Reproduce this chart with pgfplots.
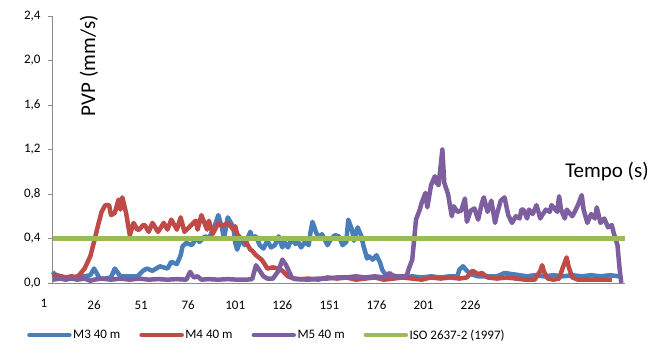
\documentclass[border=0pt]{standalone}
\usepackage{fontspec}
\setmainfont{Carlito}
\usepackage{pgfplots}
\pgfplotsset{compat=1.18}
\definecolor{cthree}{HTML}{4A7EBB}
\definecolor{cfour}{HTML}{BE4B48}
\definecolor{cfive}{HTML}{7D5FA0}
\definecolor{ciso}{HTML}{9BBB59}
\definecolor{axgray}{HTML}{8C8C8C}
\begin{document}
\begin{tikzpicture}[x=1pt,y=1pt]
\useasboundingbox (0,0) rectangle (650,349);
\begin{axis}[
  at={(52pt,66pt)}, anchor=south west,
  scale only axis, width=573pt, height=267pt,
  xmin=3.66, xmax=308, ymin=0, ymax=2.4,
  clip=false,
  axis lines*=left,
  axis line style={axgray, line width=1pt},
  xtick={26,51,76,101,126,151,176,201,226},
  ytick={0,0.4,0.8,1.2,1.6,2.0,2.4},
  xtick style={draw=none},
  ytick style={axgray, line width=1pt},
  tick align=outside, major tick length=4pt,
  /pgf/number format/assume math mode=true,
  tick label style={font=\fontsize{13}{15}\selectfont, black},
  yticklabel style={/pgf/number format/fixed, /pgf/number format/fixed zerofill, /pgf/number format/precision=1, /pgf/number format/use comma},
  yticklabel style={anchor=east, xshift=-4pt},
  xticklabel style={anchor=center, yshift=-18.5pt},
  legend columns=4,
  legend style={at={(axis description cs:-0.0436,-0.1948)}, anchor=west,
    draw=none, fill=none, inner sep=0pt,
    font=\fontsize{13}{15}\selectfont,
    nodes={inner sep=1.5pt},
    /tikz/every even column/.append style={column sep=17.5pt}},
  legend image code/.code={\draw[#1, line width=4.5pt, line cap=round] (0pt,0pt) -- (40pt,0pt);},
  every axis plot/.append style={line join=round},
]
\addplot[cthree, line width=4.5pt] coordinates {
(4,0.10) (5,0.08) (8,0.06) (11,0.05) (14,0.04) (17,0.06) (21,0.06) (24,0.07) (26,0.13) (29,0.04)
(32,0.04) (35,0.05) (37,0.13) (40,0.06) (43,0.06) (47,0.06) (49,0.06) (52,0.11) (54,0.13) (57,0.11)
(61,0.15) (65,0.13) (67,0.19) (70,0.17) (72,0.25) (73,0.33) (75,0.36) (78,0.34) (80,0.40) (82,0.37)
(85,0.42) (87,0.40) (90,0.51) (92,0.61) (94,0.49) (95,0.40) (97,0.59) (100,0.50) (101,0.36) (102,0.30)
(104,0.40) (106,0.34) (109,0.46) (110,0.41) (112,0.42) (114,0.34) (116,0.31) (118,0.38) (120,0.32) (122,0.34)
(124,0.42) (126,0.32) (127,0.37) (129,0.32) (131,0.40) (133,0.35) (134,0.38) (136,0.32) (138,0.37) (140,0.34)
(141,0.46) (142,0.55) (144,0.45) (146,0.40) (147,0.44) (150,0.34) (152,0.40) (154,0.43) (156,0.42) (158,0.34)
(160,0.37) (161,0.57) (163,0.48) (164,0.38) (166,0.50) (168,0.42) (169,0.34) (171,0.22) (172,0.24) (174,0.21)
(176,0.25) (178,0.18) (179,0.12) (181,0.07) (184,0.07) (187,0.06) (190,0.05) (195,0.06) (200,0.05) (205,0.06)
(210,0.05) (215,0.06) (219,0.06) (220,0.12) (222,0.15) (224,0.11) (226,0.08) (230,0.06) (235,0.06) (240,0.06)
(244,0.09) (248,0.08) (252,0.07) (256,0.06) (260,0.07) (265,0.06) (270,0.07) (275,0.06) (280,0.07) (285,0.06)
(290,0.07) (295,0.06) (300,0.07) (305,0.06)
};
\addlegendentry{M3 40 m}
\addplot[cfour, line width=4.5pt] coordinates {
(4,0.07) (8,0.06) (11,0.05) (14,0.06) (17,0.05) (21,0.13) (24,0.24) (26,0.37) (28,0.51) (30,0.64)
(32,0.70) (34,0.70) (35,0.61) (37,0.63) (39,0.75) (40,0.66) (41,0.77) (43,0.63) (45,0.43) (47,0.54)
(49,0.48) (50,0.48) (52,0.52) (53,0.52) (55,0.46) (57,0.54) (60,0.46) (63,0.54) (65,0.48) (67,0.57)
(70,0.48) (72,0.59) (74,0.46) (77,0.51) (80,0.56) (81,0.48) (83,0.61) (86,0.48) (87,0.56) (89,0.44)
(92,0.54) (94,0.51) (97,0.54) (100,0.48) (101,0.51) (102,0.44) (104,0.40) (107,0.36) (109,0.30) (110,0.29)
(112,0.25) (115,0.21) (117,0.16) (118,0.13) (121,0.14) (124,0.13) (126,0.11) (129,0.06) (132,0.04) (136,0.035)
(140,0.04) (145,0.03) (150,0.05) (155,0.04) (160,0.05) (165,0.03) (170,0.04) (175,0.05) (180,0.03) (185,0.04)
(190,0.05) (195,0.04) (200,0.03) (205,0.05) (210,0.04) (215,0.05) (220,0.04) (224,0.05) (227,0.11) (230,0.08)
(232,0.09) (235,0.05) (240,0.04) (245,0.05) (250,0.04) (255,0.03) (260,0.03) (263,0.11) (264,0.16) (265,0.10)
(267,0.04) (270,0.03) (273,0.04) (275,0.14) (277,0.23) (278,0.15) (280,0.05) (283,0.03) (290,0.03) (295,0.03)
(301,0.03)
};
\addlegendentry{M4 40 m}
\addplot[cfive, line width=4.5pt] coordinates {
(4,0.03) (8,0.04) (11,0.03) (14,0.04) (17,0.03) (21,0.04) (24,0.02) (26,0.03) (30,0.04) (35,0.03)
(40,0.04) (45,0.03) (50,0.04) (55,0.03) (60,0.035) (65,0.03) (70,0.035) (75,0.03) (77,0.10) (79,0.05)
(81,0.06) (83,0.03) (87,0.035) (92,0.03) (97,0.035) (102,0.03) (107,0.03) (110,0.035) (112,0.16) (114,0.11)
(116,0.06) (118,0.04) (121,0.04) (124,0.11) (126,0.21) (128,0.16) (131,0.05) (133,0.035) (140,0.03) (145,0.04)
(150,0.04) (155,0.05) (160,0.05) (165,0.06) (170,0.05) (175,0.06) (180,0.05) (183,0.09) (185,0.06) (190,0.06)
(192,0.06) (193,0.12) (195,0.21) (196,0.39) (197,0.57) (199,0.66) (200,0.72) (202,0.81) (203,0.68) (205,0.88)
(207,0.96) (208,0.90) (209,0.88) (211,1.20) (212,0.90) (214,0.80) (216,0.60) (217,0.69) (219,0.64) (221,0.65)
(223,0.76) (224,0.55) (226,0.65) (228,0.67) (230,0.57) (232,0.72) (233,0.77) (235,0.64) (237,0.74) (239,0.54)
(240,0.62) (242,0.74) (244,0.77) (246,0.61) (248,0.54) (250,0.60) (252,0.58) (253,0.66) (254,0.66) (256,0.58)
(257,0.66) (259,0.62) (261,0.70) (263,0.58) (264,0.61) (266,0.66) (268,0.64) (269,0.70) (272,0.64) (273,0.78)
(274,0.66) (276,0.58) (277,0.66) (280,0.60) (281,0.63) (283,0.70) (285,0.79) (286,0.66) (288,0.54) (290,0.62)
(292,0.58) (293,0.68) (295,0.54) (297,0.58) (299,0.50) (301,0.52) (302,0.45) (304,0.34) (305,0.15) (306,0.0)
};
\addlegendentry{M5 40 m}
\addplot[ciso, line width=5.5pt] coordinates {(4,0.4) (308,0.4)};
\addlegendentry{ISO 2637-2 (1997)}
\node[font=\fontsize{13}{15}\selectfont, anchor=center, yshift=-20.5pt, xshift=-3pt] at (axis cs:1,0) {1};
\end{axis}
\node[rotate=90, font=\fontsize{21}{25}\selectfont] at (89,283) {PVP\hspace{5.5pt}(mm/s)};
\node[font=\fontsize{21}{25}\selectfont] at (607,177) {Tempo (s)};
\end{tikzpicture}
\end{document}
